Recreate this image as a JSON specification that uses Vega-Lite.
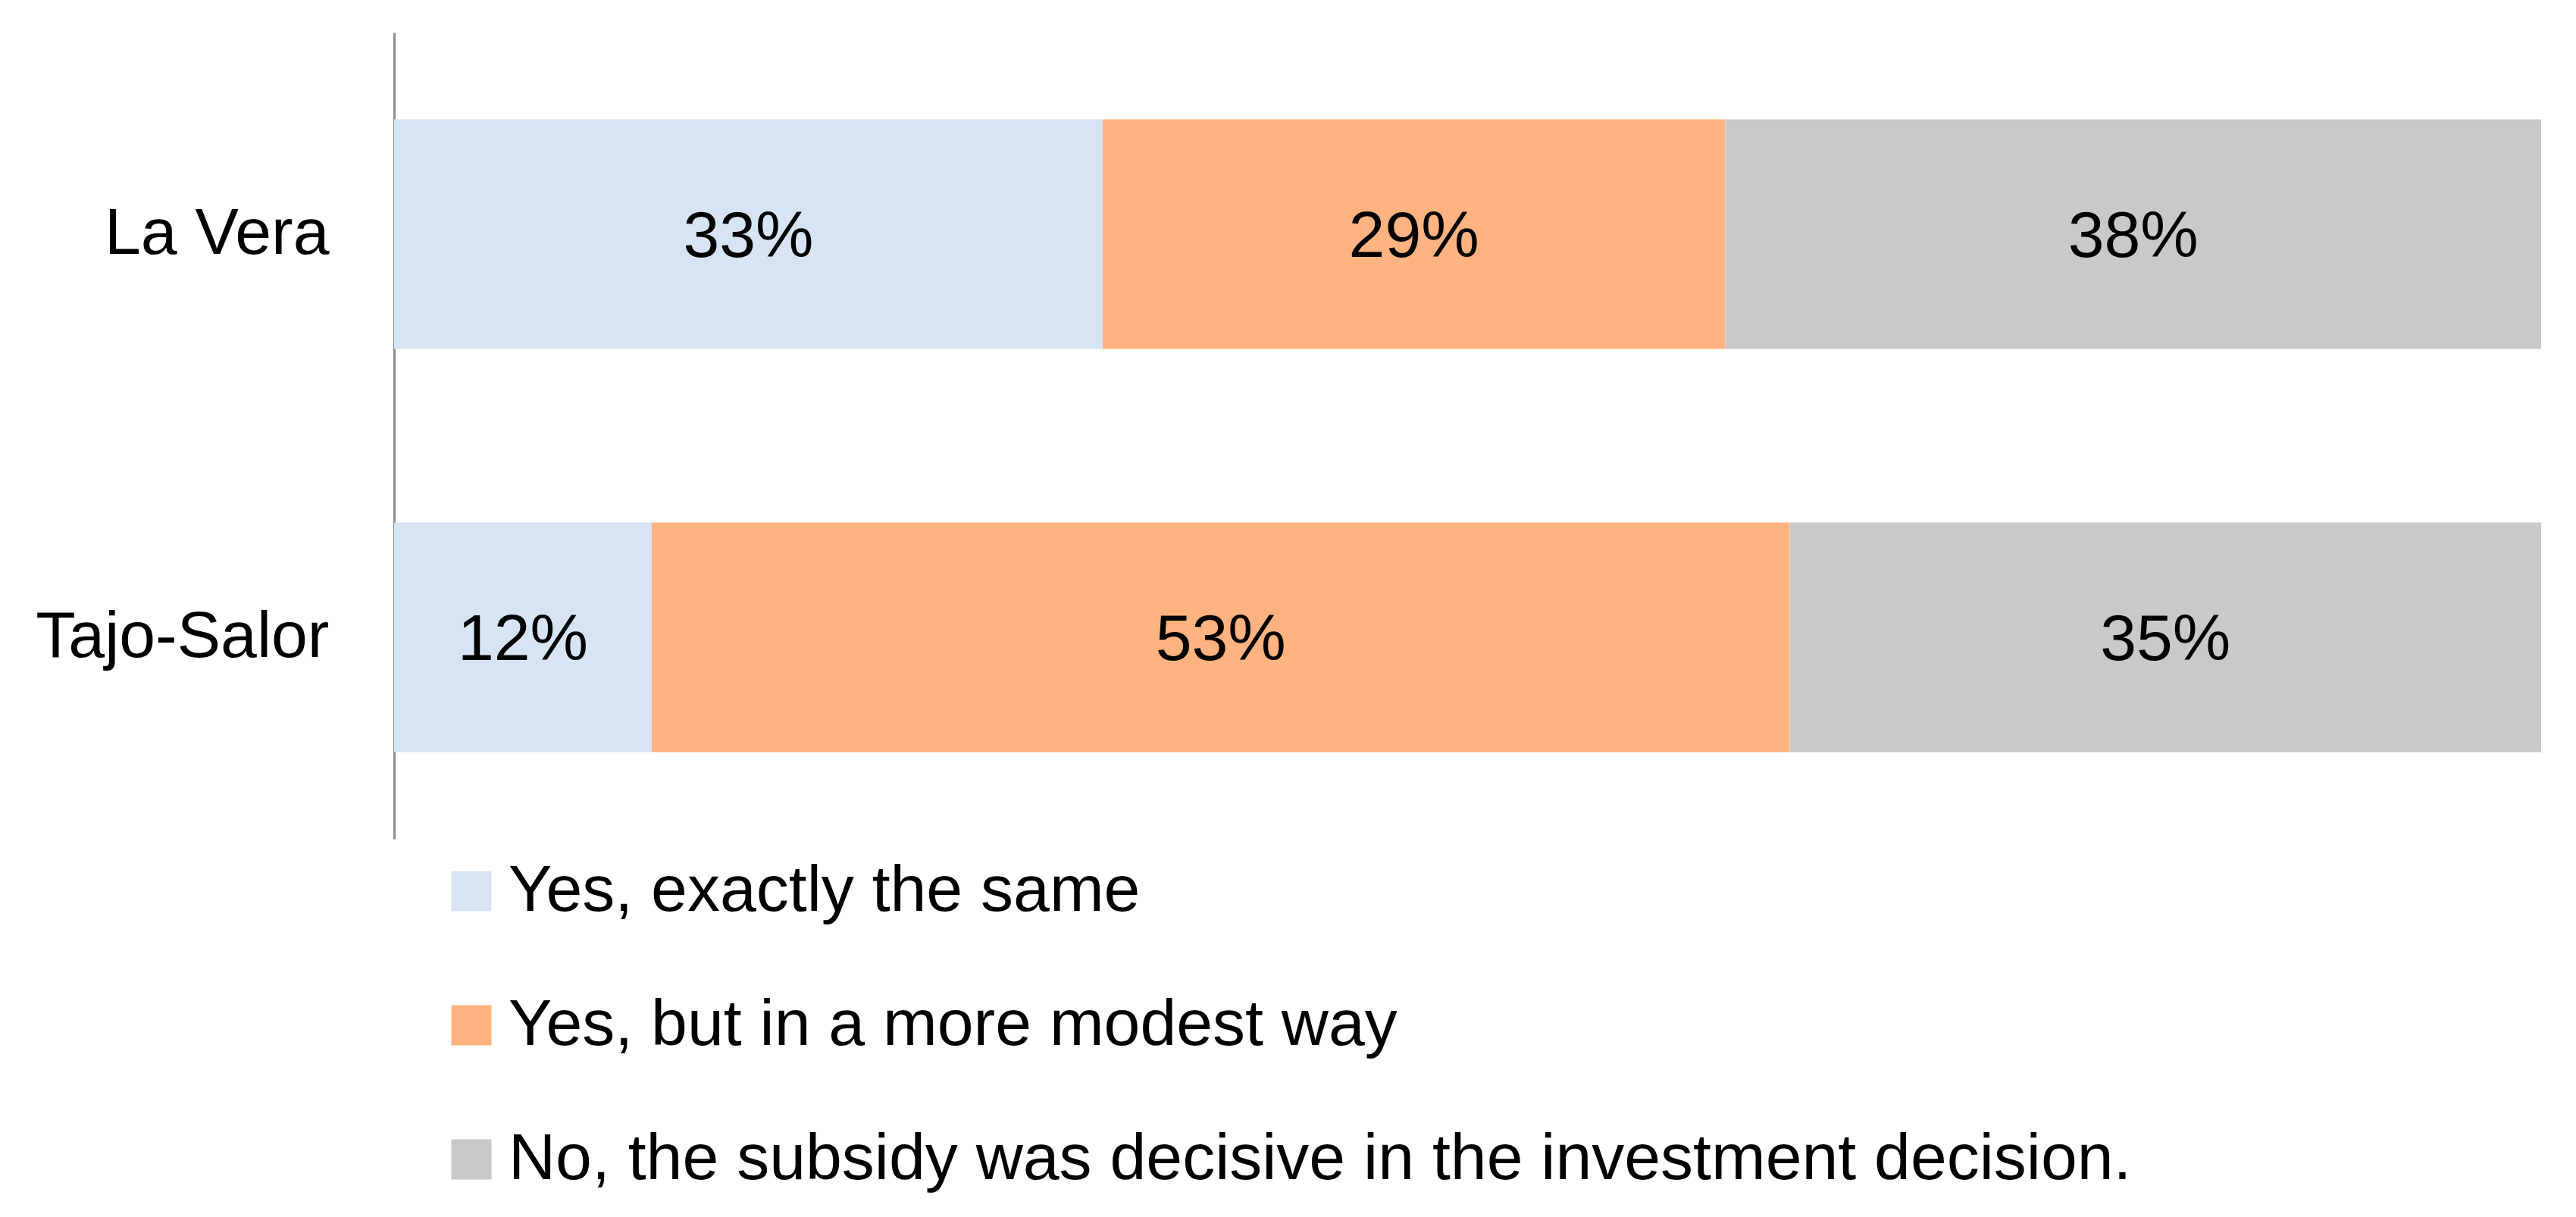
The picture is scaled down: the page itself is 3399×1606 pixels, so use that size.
{
  "$schema": "https://vega.github.io/schema/vega-lite/v6.json",
  "width": 2833,
  "height": 1064,
  "autosize": {"type": "none"},
  "padding": {"left": 520, "top": 43, "right": 46, "bottom": 499},
  "background": "white",
  "config": {
    "view": {"stroke": null},
    "font": "Liberation Sans",
    "text": {"font": "Liberation Sans"}
  },
  "data": {
    "values": [
      {"region": "La Vera", "answer": "Yes, exactly the same", "order": 1, "value": 0.33},
      {"region": "La Vera", "answer": "Yes, but in a more modest way", "order": 2, "value": 0.29},
      {"region": "La Vera", "answer": "No, the subsidy was decisive in the investment decision.", "order": 3, "value": 0.38},
      {"region": "Tajo-Salor", "answer": "Yes, exactly the same", "order": 1, "value": 0.12},
      {"region": "Tajo-Salor", "answer": "Yes, but in a more modest way", "order": 2, "value": 0.53},
      {"region": "Tajo-Salor", "answer": "No, the subsidy was decisive in the investment decision.", "order": 3, "value": 0.35}
    ]
  },
  "encoding": {
    "y": {
      "field": "region",
      "type": "nominal",
      "sort": ["La Vera", "Tajo-Salor"],
      "scale": {"paddingInner": 0.43, "paddingOuter": 0.215},
      "axis": {
        "title": null,
        "ticks": false,
        "domain": true,
        "domainColor": "#8c8c8c",
        "domainWidth": 3,
        "labelFontSize": 86,
        "labelColor": "#000000",
        "labelPadding": 86,
        "labelLimit": 1000,
        "labelFont": "Liberation Sans"
      }
    },
    "x": {
      "field": "value",
      "type": "quantitative",
      "stack": "zero",
      "scale": {"domain": [0, 1], "nice": false},
      "axis": null
    },
    "order": {"field": "order", "type": "quantitative"}
  },
  "layer": [
    {
      "mark": {"type": "bar"},
      "encoding": {
        "color": {
          "field": "answer",
          "type": "nominal",
          "sort": ["Yes, exactly the same", "Yes, but in a more modest way", "No, the subsidy was decisive in the investment decision."],
          "scale": {
            "domain": ["Yes, exactly the same", "Yes, but in a more modest way", "No, the subsidy was decisive in the investment decision."],
            "range": ["#D7E4F4", "#FFB381", "#C9C9C9"]
          },
          "legend": {
            "title": null,
            "orient": "none",
            "legendX": 59,
            "legendY": 1090,
            "direction": "vertical",
            "symbolType": "square",
            "symbolSize": 2809,
            "symbolStrokeWidth": 0,
            "labelFontSize": 86,
            "labelColor": "#000000",
            "labelFont": "Liberation Sans",
            "labelOffset": 6,
            "rowPadding": 91,
            "padding": 0,
            "labelLimit": 3000
          }
        }
      }
    },
    {
      "mark": {"type": "text", "fontSize": 86, "color": "#000000", "align": "center", "baseline": "middle", "dy": 4},
      "encoding": {
        "x": {
          "field": "value",
          "type": "quantitative",
          "stack": "zero",
          "bandPosition": 0.5
        },
        "text": {"field": "value", "type": "quantitative", "format": ".0%"}
      }
    }
  ]
}
